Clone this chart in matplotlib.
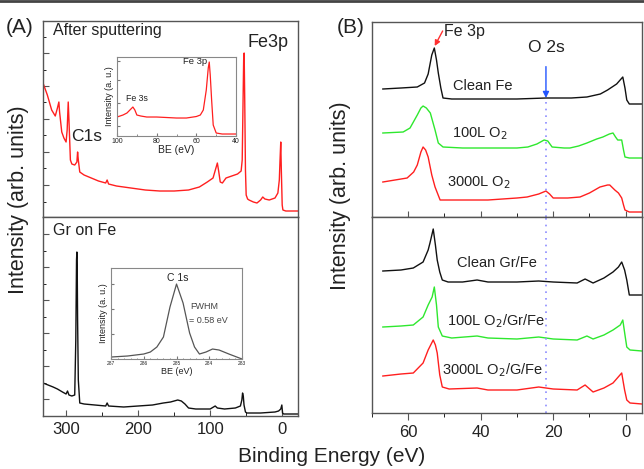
import matplotlib
matplotlib.use("Agg")
import matplotlib.pyplot as plt
from matplotlib.lines import Line2D
from matplotlib.ticker import MultipleLocator, FixedLocator, NullFormatter

plt.rcParams["font.family"] = ["Liberation Sans", "DejaVu Sans"]

# ---- (A) survey spectra: binding energy (eV) vs intensity (arb.) ----
sput_be = [332, 326, 320, 315, 312, 310, 309, 306, 303, 300, 298.5, 297, 296, 294, 292, 288, 285,
           284, 283, 281, 275, 265, 255, 245, 243, 241, 230, 210, 190, 170, 150, 130, 115, 104,
           96, 92, 90, 88, 86, 83, 78, 70, 62, 57, 55.5, 54.5, 53.5, 52.8, 52, 51, 50, 48, 46,
           40, 35, 30, 27, 24, 18, 10, 6, 4, 3, 2, 1.2, 0, -1, -5, -22]
sput_int = [134, 122, 107, 101, 109, 115, 105, 85, 79, 75, 87, 115, 97, 57, 53, 52, 55,
            65, 57, 45, 42, 39, 36, 34, 37, 33, 31, 29, 27, 26, 26, 27, 30, 35,
            39, 49, 54, 45, 35, 34, 39, 41, 43, 46, 57, 107, 157, 164, 117, 47, 22, 18, 17,
            15, 14, 17, 20, 18, 17, 19, 24, 37, 57, 75, 47, 12, 7, 6, 6]

gr_be = [332, 325, 318, 312, 305, 300, 298, 296, 292, 288, 286.5, 285.5, 285, 284.5, 284, 283,
         281, 275, 260, 245, 243, 241, 220, 200, 180, 165, 155, 145, 140, 135, 130, 120, 100,
         93, 90, 80, 65, 58, 56, 55, 54, 53, 51, 49, 30, 10, 5, 2, 0.5, -0.5, -2, -22]
gr_int = [33, 31, 29, 27, 24, 22, 25, 21, 20, 21, 76, 156, 164, 146, 96, 36,
          13, 12, 11, 10, 13, 10, 9, 10, 11, 13, 14, 16, 15, 12, 8, 7, 7,
          10, 8, 7, 8, 10, 16, 23, 20, 11, 4, 3, 3, 4, 5, 7, 11, 3, 2, 2]

# insets
fe_be = [100, 97, 95, 93, 92, 91, 90, 88, 85, 80, 75, 70, 65, 60, 58, 56.5, 55, 54, 53.5,
         53, 52.3, 51.5, 50, 47, 40]
fe_int = [19, 21, 23, 27, 29, 26, 21, 20, 19, 19, 18.5, 18, 18, 19.5, 21, 26, 46, 68, 74,
          61, 36, 11, 3, 2, 2]

c1s_be = [287, 286.5, 286, 285.8, 285.6, 285.4, 285.2, 285.0, 284.8, 284.6, 284.45, 284.3,
          284.1, 283.9, 283.7, 283.4, 283.0]
c1s_int = [2, 3, 5, 7, 12, 22, 52, 75, 56, 26, 12, 5, 7, 10, 9, 5, 0]

# ---- (B) valence region ----
fe_clean_be = [67, 62, 57.5, 55.5, 54.5, 53.5, 52.8, 52.2, 51.7, 51, 50.4, 48, 40, 30, 22, 15,
               10.7, 7, 5, 2.5, 0.8, 0.2, -0.3, -1, -4.5]
fe_clean_int = [128, 129, 130, 134, 143, 162, 169, 157, 144, 129, 119, 118, 118, 118, 119, 119,
                120, 123, 127, 133, 140, 129, 117, 113, 113]

fe_100_be = [67, 61.4, 59.5, 57.5, 56.5, 55.9, 55, 53.9, 52.6, 51.7, 50.4, 45, 38, 30, 27, 24.5,
             22.5, 21.5, 20.3, 17, 15.4, 13, 10.7, 8, 6.3, 4.5, 3.5, 2.8, 2.2, 1.1, 0.6, 0.2,
             -1, -4.5]
fe_100_int = [84, 85, 89, 102, 109, 111, 109, 104, 87, 74, 70, 69, 69, 69, 70, 73,
              77, 76, 70, 69, 69, 71, 74, 78, 80, 83, 84, 80, 77, 77, 67, 60,
              59, 59]

fe_3000_be = [67, 60.3, 58.5, 57.5, 56.5, 55.9, 55.2, 54.5, 53.5, 52.6, 51.2, 45, 38, 30, 27.2,
              24, 22, 21, 20, 16, 12.6, 10, 7.1, 5, 4.4, 3, 2, 1.1, 0.6, 0.2, -1, -4.5]
fe_3000_int = [35, 39, 45, 52, 65, 70, 67, 60, 42, 30, 17, 17, 17, 19, 20,
               23, 26, 23, 19, 19, 20, 24, 30, 32, 32, 27, 24, 19, 12, 7, 5, 5]

gr_clean_be = [67, 62, 58.6, 55.9, 54.5, 54, 53.1, 52.5, 52, 51.3, 50.6, 49, 45, 41, 38, 30, 24,
               20, 13.4, 11.2, 9, 6, 3.5, 2, 1.1, 0.3, -0.3, -1, -4.5]
gr_clean_int = [142, 143, 145, 151, 163, 170, 184, 168, 153, 141, 133, 131, 131, 133, 131, 131,
                132, 131, 130, 134, 130, 135, 141, 146, 151, 143, 133, 118, 118]

gr_100_be = [67, 62, 58.6, 55.9, 54.5, 53.4, 52.8, 52.2, 51.7, 50.6, 48, 41, 38, 30, 24, 20,
             13.4, 10.7, 9, 6, 3.5, 1.5, 0.8, 0.2, -0.3, -1.2, -4.5]
gr_100_int = [86, 87, 88, 96, 108, 116, 126, 108, 86, 77, 75, 77, 75, 74, 76, 74,
              73, 77, 74, 78, 83, 88, 93, 78, 66, 63, 62]

gr_3000_be = [67, 62, 58.6, 55.9, 54.5, 53.1, 52.5, 52, 51.3, 50.6, 48.7, 41, 38, 30, 24, 20,
              13.4, 11.2, 9, 6, 3.5, 1.1, 0.3, -0.3, -1.2, -4.5]
gr_3000_int = [37, 39, 40, 50, 63, 73, 68, 60, 38, 26, 24, 25, 23, 23, 26, 24,
               23, 28, 21, 25, 30, 40, 23, 13, 10, 9]

o2s_be = 22.0

RED = "#ff1f1f"
GREEN = "#2ee82e"
BLACK = "#111111"
FRAME = "#555555"
TXT = "#222222"

fig = plt.figure(figsize=(6.44, 4.69), dpi=100)
fig.add_artist(Line2D([0, 1], [0.997, 0.997], color="#444444", lw=2))


def frame(ax):
    for s in ax.spines.values():
        s.set_color(FRAME)
        s.set_linewidth(1.0)
    ax.tick_params(colors=FRAME, labelcolor=TXT)


# ---------------- panel A ----------------
axA1 = fig.add_axes([0.0668, 0.5373, 0.3960, 0.4179])
axA2 = fig.add_axes([0.0668, 0.1130, 0.3960, 0.4243])
for ax in (axA1, axA2):
    frame(ax)
    ax.set_xlim(332, -22)
    ax.xaxis.set_major_locator(MultipleLocator(100))
    ax.xaxis.set_minor_locator(MultipleLocator(50))
    ax.yaxis.set_major_formatter(NullFormatter())
axA1.set_ylim(0, 196)
axA2.set_ylim(0, 199)

axA1.plot(sput_be, sput_int, color=RED, lw=1.0)
axA1.yaxis.set_major_locator(FixedLocator([32, 65, 98, 131, 164]))
axA1.yaxis.set_minor_locator(FixedLocator([15, 49, 82, 115, 147, 180]))
axA1.tick_params(axis="y", which="both", direction="in", right=False)
axA1.tick_params(axis="y", which="major", length=4)
axA1.tick_params(axis="y", which="minor", length=2.5)
axA1.tick_params(axis="x", which="both", direction="out", labelbottom=False)
axA1.tick_params(axis="x", which="major", length=4)
axA1.tick_params(axis="x", which="minor", length=3)
axA1.text(318, 187, "After sputtering", fontsize=11.5, color=TXT, va="center", ha="left")
axA1.text(48.6, 175, "Fe3p", fontsize=13, color=TXT, va="center", ha="left")
axA1.text(293, 81, "C1s", fontsize=12.5, color=TXT, va="center", ha="left")

axA2.plot(gr_be, gr_int, color=BLACK, lw=1.0)
axA2.yaxis.set_major_locator(FixedLocator([17, 50, 83, 116, 149, 182]))
axA2.yaxis.set_minor_locator(FixedLocator([33, 66, 99, 132, 165]))
axA2.tick_params(axis="y", which="both", direction="in")
axA2.tick_params(axis="y", which="major", length=4)
axA2.tick_params(axis="y", which="minor", length=2.5)
axA2.tick_params(axis="x", which="both", direction="in", labelsize=12)
axA2.tick_params(axis="x", which="major", length=4, pad=4)
axA2.tick_params(axis="x", which="minor", length=3)
axA2.text(318, 186, "Gr on Fe", fontsize=11.5, color=TXT, va="center", ha="left")

# insets
inA1 = fig.add_axes([0.1817, 0.7100, 0.1848, 0.1684])
inA1.plot(fe_be, fe_int, color=RED, lw=0.9)
inA1.set_xlim(100, 40)
inA1.set_ylim(0, 79)
inA1.xaxis.set_major_locator(MultipleLocator(20))
inA1.xaxis.set_minor_locator(MultipleLocator(10))
inA1.yaxis.set_major_locator(FixedLocator([10, 33, 56, 75]))
inA1.yaxis.set_major_formatter(NullFormatter())
inA1.tick_params(which="both", direction="in", labelsize=5, length=2, pad=1.5,
                 colors="#777777", labelcolor=TXT)
inA1.tick_params(which="minor", length=1.2)
for s in inA1.spines.values():
    s.set_color("#888888")
    s.set_linewidth(0.8)
inA1.set_xlabel("BE (eV)", fontsize=7.5, color=TXT, labelpad=0)
inA1.set_ylabel("Intensity (a. u.)", fontsize=6.5, color=TXT, labelpad=1)
inA1.text(66.7, 75, "Fe 3p", fontsize=6.8, color=TXT, va="center", ha="left")
inA1.text(95.5, 38, "Fe 3s", fontsize=6.3, color=TXT, va="center", ha="left")

inA2 = fig.add_axes([0.1724, 0.2345, 0.2034, 0.1940])
inA2.plot(c1s_be, c1s_int, color="#555555", lw=0.9)
inA2.set_xlim(287, 283)
inA2.set_ylim(0, 91)
inA2.xaxis.set_major_locator(MultipleLocator(1))
inA2.xaxis.set_minor_locator(MultipleLocator(0.2))
inA2.yaxis.set_major_locator(FixedLocator([25, 50, 75]))
inA2.yaxis.set_major_formatter(NullFormatter())
inA2.tick_params(which="both", direction="in", labelsize=3.5, length=2, pad=1.5,
                 colors="#777777", labelcolor=TXT)
inA2.tick_params(which="minor", length=1)
for s in inA2.spines.values():
    s.set_color("#888888")
    s.set_linewidth(0.8)
inA2.set_xlabel("BE (eV)", fontsize=6.5, color=TXT, labelpad=1)
inA2.set_ylabel("Intensity (a. u.)", fontsize=6.5, color=TXT, labelpad=1)
inA2.text(284.95, 81, "C 1s", fontsize=7.5, color=TXT, va="center", ha="center")
inA2.text(284.59, 53, "FWHM", fontsize=6.5, color="#444444", va="center", ha="left")
inA2.text(284.62, 39, "= 0.58 eV", fontsize=6.5, color="#444444", va="center", ha="left")

# ---------------- panel B ----------------
axB1 = fig.add_axes([0.5776, 0.5373, 0.4193, 0.4158])
axB2 = fig.add_axes([0.5776, 0.1194, 0.4193, 0.4179])
for ax in (axB1, axB2):
    frame(ax)
    ax.set_xlim(70, -4.5)
    ax.xaxis.set_major_locator(MultipleLocator(20))
    ax.xaxis.set_minor_locator(MultipleLocator(10))
    ax.set_yticks([])
axB1.set_ylim(0, 195)
axB2.set_ylim(0, 196)

axB1.plot(fe_clean_be, fe_clean_int, color=BLACK, lw=1.0)
axB1.plot(fe_100_be, fe_100_int, color=GREEN, lw=1.0)
axB1.plot(fe_3000_be, fe_3000_int, color=RED, lw=1.0)
axB1.plot([o2s_be, o2s_be], [0, 116], color="#8c8cff", lw=1.2, ls=(0, (1, 3)))
axB1.tick_params(axis="x", which="both", direction="in", labelbottom=False)
axB1.tick_params(axis="x", which="major", length=4)
axB1.tick_params(axis="x", which="minor", length=3)
axB1.annotate("O 2s", xy=(o2s_be, 119), xytext=(o2s_be, 169), fontsize=12.5, color=TXT,
              ha="center", va="center",
              arrowprops=dict(arrowstyle="-|>", color="#2255ff", lw=1.0,
                              mutation_scale=9, shrinkA=6, shrinkB=0))
# Fe 3p marker: short red arrow pointing down-left onto the peak
axB1.annotate("", xy=(52.7, 171), xytext=(50.5, 186),
              arrowprops=dict(arrowstyle="-|>", color="#ff3030", lw=1.0,
                              mutation_scale=8, shrinkA=0, shrinkB=0))
axB1.text(50.0, 185, "Fe 3p", fontsize=11.5, color=TXT, ha="left", va="center")
axB1.text(47.6, 131, "Clean Fe", fontsize=10.5, color=TXT, va="center", ha="left")
axB1.text(47.9, 83, "100L O$_2$", fontsize=10.5, color=TXT, va="center", ha="left")
axB1.text(49.3, 34, "3000L O$_2$", fontsize=10.5, color=TXT, va="center", ha="left")

axB2.plot(gr_clean_be, gr_clean_int, color=BLACK, lw=1.0)
axB2.plot(gr_100_be, gr_100_int, color=GREEN, lw=1.0)
axB2.plot(gr_3000_be, gr_3000_int, color=RED, lw=1.0)
axB2.plot([o2s_be, o2s_be], [0, 196], color="#8c8cff", lw=1.2, ls=(0, (1, 3)))
axB2.tick_params(axis="x", which="both", direction="out", labelsize=12)
axB2.tick_params(axis="x", which="major", length=5)
axB2.tick_params(axis="x", which="minor", length=3)
axB2.text(46.5, 150, "Clean Gr/Fe", fontsize=10.5, color=TXT, va="center", ha="left")
axB2.text(49.3, 92, "100L O$_2$/Gr/Fe", fontsize=10.5, color=TXT, va="center", ha="left")
axB2.text(50.6, 43, "3000L O$_2$/G/Fe", fontsize=10.5, color=TXT, va="center", ha="left")

# labels
fig.text(0.031, 0.942, "(A)", fontsize=15, color=TXT, ha="center", va="center")
fig.text(0.545, 0.942, "(B)", fontsize=15, color=TXT, ha="center", va="center")
fig.text(0.028, 0.575, "Intensity (arb. units)", fontsize=15.5, color=TXT, rotation=90,
         ha="center", va="center")
fig.text(0.528, 0.583, "Intensity (arb. units)", fontsize=15.5, color=TXT, rotation=90,
         ha="center", va="center")
fig.text(0.515, 0.026, "Binding Energy (eV)", fontsize=15, color=TXT, ha="center", va="center")

fig.savefig("out.png", dpi=100)
